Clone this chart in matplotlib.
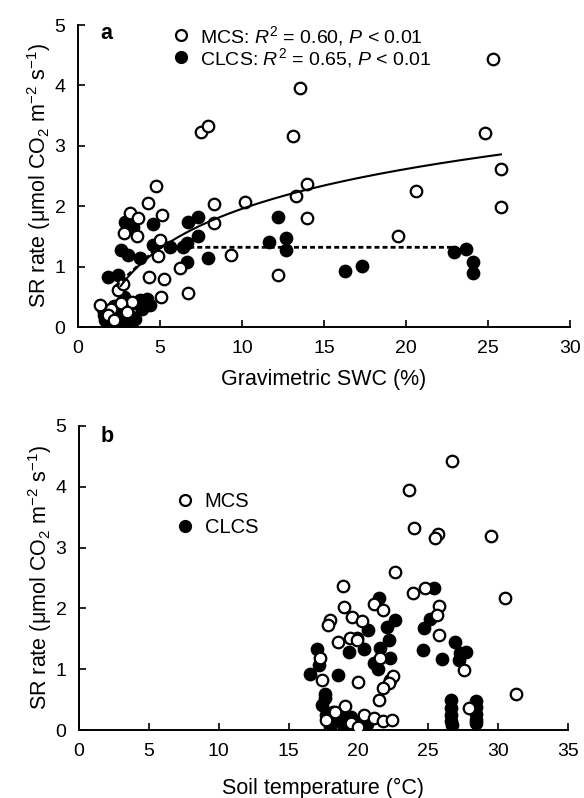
import numpy as np
import matplotlib
matplotlib.use("Agg")
import matplotlib.pyplot as plt

plt.rcParams['font.family'] = ['Liberation Sans', 'DejaVu Sans']
plt.rcParams['mathtext.fontset'] = 'custom'
plt.rcParams['mathtext.rm'] = 'Liberation Sans'
plt.rcParams['mathtext.it'] = 'Liberation Sans:italic'
plt.rcParams['mathtext.bf'] = 'Liberation Sans:bold'

# ---------------- Panel a data: SR vs gravimetric SWC ----------------
swc_mcs = [13.54, 7.5, 7.95, 13.1, 4.76, 4.29, 3.17, 3.64, 5.1, 2.83, 3.58, 8.31,
           10.2, 8.31, 13.94, 13.3, 14.0, 5.0, 4.9, 6.2, 9.33, 12.2, 4.33, 5.27,
           5.06, 6.73, 1.34, 2.46, 2.77, 25.3, 24.8, 25.8, 25.8, 20.65, 19.5,
           3.27, 2.0, 2.6, 1.8, 2.2, 3.0]
sr_a_mcs = [3.95, 3.23, 3.33, 3.17, 2.33, 2.06, 1.89, 1.80, 1.85, 1.55, 1.51, 2.03,
            2.07, 1.72, 2.36, 2.17, 1.80, 1.44, 1.18, 0.97, 1.19, 0.86, 0.82, 0.79,
            0.50, 0.57, 0.36, 0.61, 0.72, 4.43, 3.21, 2.61, 1.99, 2.26, 1.50,
            0.42, 0.30, 0.40, 0.20, 0.12, 0.25]

swc_clcs = [2.87, 3.37, 4.6, 2.6, 3.07, 3.78, 4.6, 5.6, 6.43, 6.62, 6.73, 7.34,
            7.34, 6.62, 7.95, 12.2, 11.67, 12.68, 12.7, 1.85, 2.46, 4.19, 2.8,
            16.28, 17.3, 22.95, 23.64, 24.1, 24.1,
            1.7, 2.46, 3.48, 1.95, 2.6, 1.65, 3.27, 3.78, 2.2, 1.8, 2.9, 2.1, 1.6, 3.0,
            3.9, 4.4, 2.4, 3.5, 1.5, 2.0, 2.7]
sr_a_clcs = [1.74, 1.66, 1.71, 1.28, 1.19, 1.14, 1.36, 1.33, 1.33, 1.39, 1.74, 1.83,
             1.50, 1.08, 1.14, 1.82, 1.41, 1.48, 1.27, 0.83, 0.86, 0.47, 0.50,
             0.92, 1.01, 1.24, 1.30, 1.08, 0.90,
             0.26, 0.23, 0.39, 0.09, 0.09, 0.12, 0.17, 0.45, 0.35, 0.05, 0.30, 0.18, 0.20, 0.08,
             0.30, 0.36, 0.04, 0.14, 0.30, 0.02, 0.14]

# fitted curves (model parameters)
fit_mcs_a, fit_mcs_b = -0.23, 0.95            # y = a + b ln(x)
fit_mcs_range = (2.6, 25.8)
fit_clcs_a, fit_clcs_b, fit_clcs_max = 0.10, 0.25, 1.32   # y = min(a + b x, max)
fit_clcs_range = (2.3, 23.0)

# ---------------- Panel b data: SR vs soil temperature ----------------
ts_mcs = [26.7, 23.66, 24.0, 25.7, 25.5, 29.5, 22.64, 18.93, 23.95, 24.8, 30.5, 19.0,
          21.15, 21.75, 19.53, 20.25, 17.98, 17.86, 25.79, 25.62, 25.81, 19.41, 19.9,
          18.53, 17.26, 21.56, 27.6, 17.43, 20.0, 22.5, 22.16, 21.8, 21.5, 31.3, 19.05,
          27.9, 17.7, 20.4, 21.1, 21.8, 22.4, 19.5, 18.3, 20.0]
sr_b_mcs = [4.42, 3.94, 3.33, 3.23, 3.15, 3.19, 2.60, 2.37, 2.26, 2.34, 2.17, 2.03,
            2.08, 1.98, 1.86, 1.79, 1.81, 1.73, 2.04, 1.89, 1.56, 1.52, 1.48,
            1.45, 1.19, 1.18, 0.99, 0.83, 0.79, 0.88, 0.77, 0.69, 0.50, 0.59, 0.39,
            0.37, 0.16, 0.25, 0.20, 0.15, 0.16, 0.12, 0.30, 0.05]

ts_clcs = [25.4, 21.5, 22.6, 22.04, 22.2, 20.7, 19.9, 20.4, 19.3, 17.03, 21.56, 22.28,
           21.15, 21.44, 17.19, 16.55, 18.57, 22.28, 25.14, 24.7, 24.6, 26.0, 26.9,
           27.3, 27.7, 27.2, 17.6, 17.4, 26.6, 26.6, 26.6, 26.6, 26.7, 28.4, 28.4,
           28.4, 28.4, 28.4,
           17.7, 18.2, 18.7, 19.3, 19.9, 20.25, 18.8, 18.2, 19.5, 17.6, 20.6, 18.0, 19.0]
sr_b_clcs = [2.34, 2.17, 1.81, 1.69, 1.48, 1.64, 1.51, 1.34, 1.28, 1.33, 1.35, 1.19,
             1.10, 1.01, 1.07, 0.92, 0.90, 0.83, 1.82, 1.67, 1.32, 1.16, 1.45,
             1.26, 1.28, 1.15, 0.59, 0.41, 0.49, 0.36, 0.25, 0.14, 0.08, 0.47, 0.38,
             0.27, 0.16, 0.11,
             0.25, 0.19, 0.14, 0.11, 0.08, 0.16, 0.27, 0.30, 0.22, 0.52, 0.10, 0.05, 0.03]

legend_a = ['MCS: $R^2$ = 0.60, $P$ < 0.01', 'CLCS: $R^2$ = 0.65, $P$ < 0.01']
legend_b = ['MCS', 'CLCS']
ylabel = 'SR rate (μmol CO$_2$ m$^{-2}$ s$^{-1}$)'

fig = plt.figure(figsize=(5.84, 7.98), dpi=100)
ax1 = fig.add_axes([0.1336, 0.5902, 0.842, 0.3784])
ax2 = fig.add_axes([0.1353, 0.0852, 0.837, 0.381])

ms = 8.3
mew = 1.6
tick_fs = 14
label_fs = 15.5

def style(ax, xmax, xstep):
    ax.set_xlim(0, xmax)
    ax.set_ylim(0, 5)
    ax.set_xticks(np.arange(0, xmax + 0.1, xstep))
    ax.set_yticks(np.arange(0, 6, 1))
    for s in ['top', 'right']:
        ax.spines[s].set_visible(False)
    for s in ['left', 'bottom']:
        ax.spines[s].set_linewidth(1.4)
    ax.tick_params(direction='in', length=5, width=1.2, labelsize=tick_fs, pad=9)
    ax.set_ylabel(ylabel, fontsize=label_fs, labelpad=1)

# panel a
l_clcs, = ax1.plot(swc_clcs, sr_a_clcs, 'o', ms=ms, mfc='black', mec='black', mew=mew, zorder=3)
l_mcs, = ax1.plot(swc_mcs, sr_a_mcs, 'o', ms=ms, mfc='white', mec='black', mew=mew, zorder=4)
xs = np.linspace(*fit_mcs_range, 200)
ax1.plot(xs, fit_mcs_a + fit_mcs_b * np.log(xs), '-', color='black', lw=1.5, zorder=5)
xd = np.linspace(*fit_clcs_range, 200)
ax1.plot(xd, np.minimum(fit_clcs_a + fit_clcs_b * xd, fit_clcs_max), '--', color='black',
         lw=2.0, dashes=(1.8, 1.1), zorder=5)
style(ax1, 30, 5)
ax1.set_xlabel('Gravimetric SWC (%)', fontsize=label_fs, labelpad=9)
ax1.text(0.045, 0.972, 'a', transform=ax1.transAxes, fontsize=15.5, fontweight='bold',
         va='center', ha='left')
ax1.legend([l_mcs, l_clcs], legend_a, loc='upper left', bbox_to_anchor=(0.17, 1.03),
           frameon=False, fontsize=14, handletextpad=0.35, labelspacing=-0.1,
           borderaxespad=0, handlelength=1.2, markerscale=0.95)

# panel b
p_clcs, = ax2.plot(ts_clcs, sr_b_clcs, 'o', ms=ms, mfc='black', mec='black', mew=mew, zorder=3)
p_mcs, = ax2.plot(ts_mcs, sr_b_mcs, 'o', ms=ms, mfc='white', mec='black', mew=mew, zorder=4)
style(ax2, 35, 5)
ax2.set_xlabel('Soil temperature (°C)', fontsize=label_fs, labelpad=13)
ax2.text(0.045, 0.965, 'b', transform=ax2.transAxes, fontsize=15.5, fontweight='bold',
         va='center', ha='left')
ax2.legend([p_mcs, p_clcs], legend_b, loc='upper left', bbox_to_anchor=(0.175, 0.81),
           frameon=False, fontsize=14.5, handletextpad=0.4, labelspacing=0.35,
           borderaxespad=0, handlelength=1.2, markerscale=0.95)

fig.savefig('out.png', dpi=100)
